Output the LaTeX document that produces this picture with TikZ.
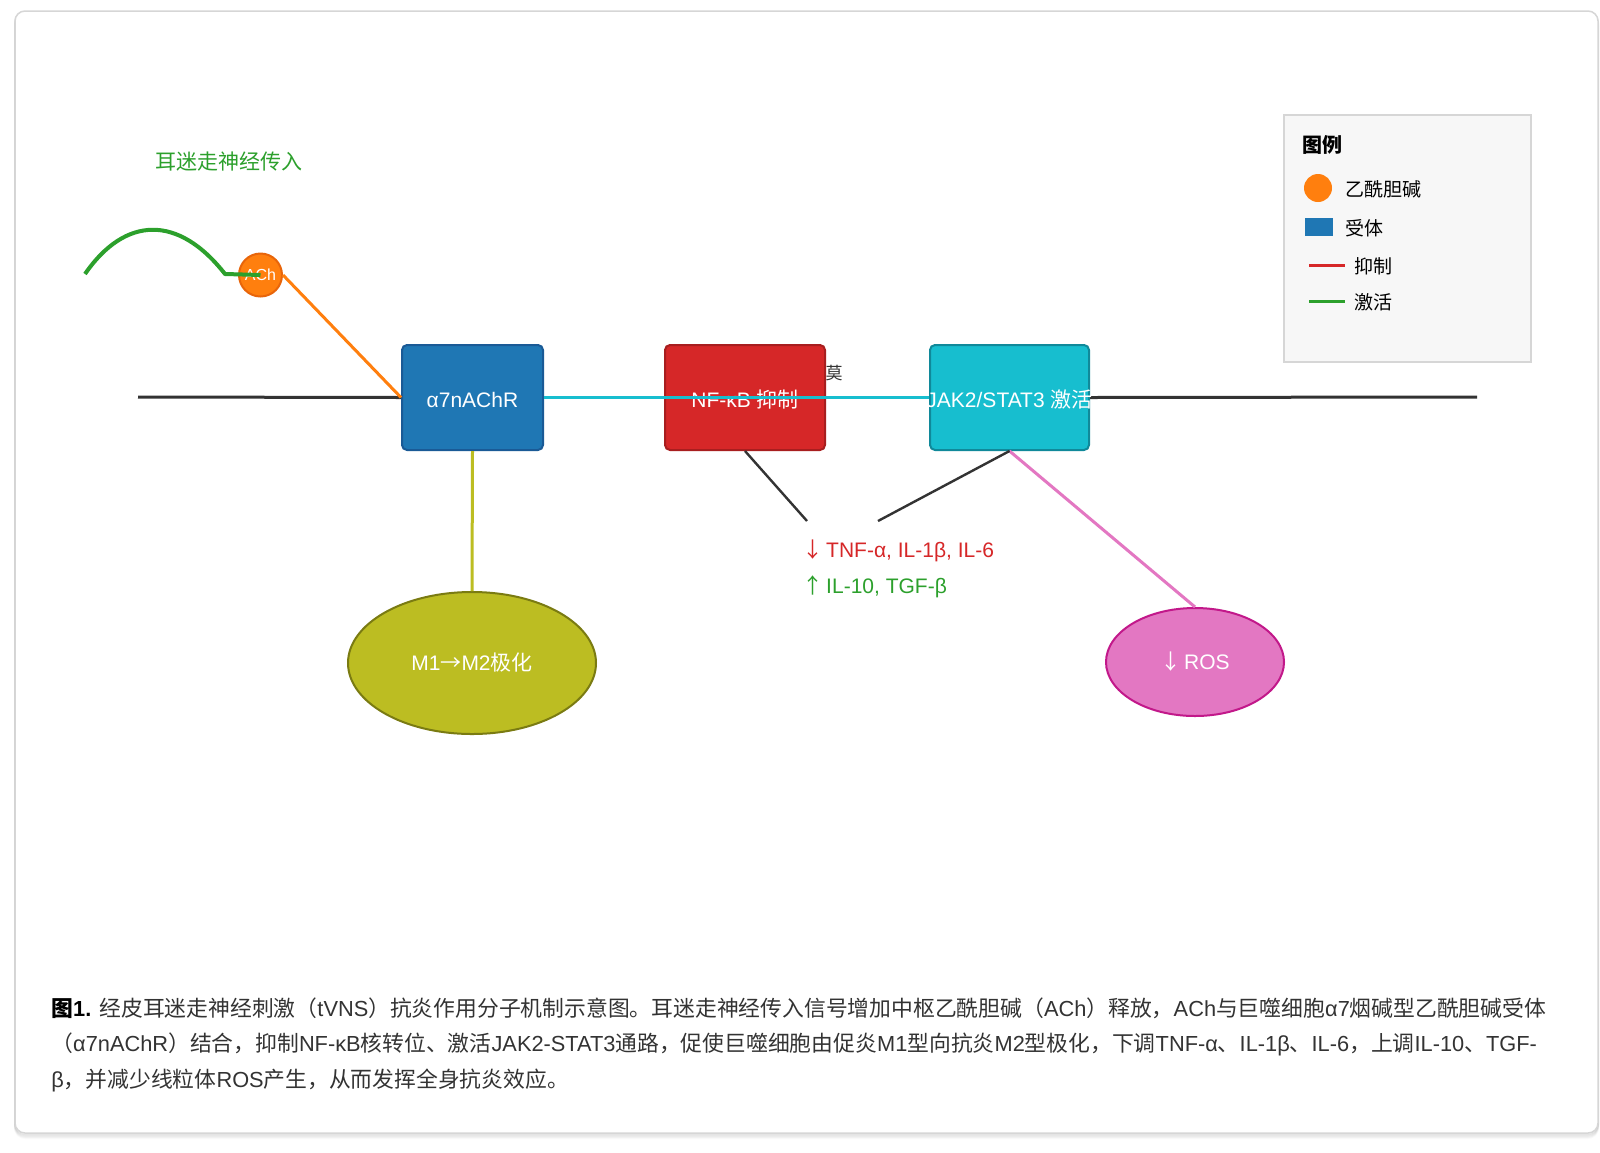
\documentclass[tikz,border=0pt]{standalone}
\usepackage{fontspec}
\setmainfont{Liberation Sans}
\newfontfamily\cjkfont{Noto Sans CJK SC}
\usetikzlibrary{shapes.geometric}
% automatic switch to the CJK font for CJK characters (and arrows)
\XeTeXinterchartokenstate=1
\newXeTeXintercharclass\cjkclass
\makeatletter
\count@="2190
\loop
\XeTeXcharclass\count@=\cjkclass
\ifnum\count@<"2193 \advance\count@\@ne\repeat
\count@="2E80
\loop
\XeTeXcharclass\count@=\cjkclass
\ifnum\count@<"9FFF \advance\count@\@ne\repeat
\count@="FF00
\loop
\XeTeXcharclass\count@=\cjkclass
\ifnum\count@<"FFEF \advance\count@\@ne\repeat
\makeatother
\XeTeXinterchartoks 0 \cjkclass={\begingroup\cjkfont}
\XeTeXinterchartoks 4095 \cjkclass={\begingroup\cjkfont}
\XeTeXinterchartoks \cjkclass 0={\endgroup}
\XeTeXinterchartoks \cjkclass 4095={\endgroup}
\newcommand\fsz[1]{\fontsize{#1}{#1}\selectfont}
\definecolor{cblue}{HTML}{1F77B4}
\definecolor{cblueD}{HTML}{1A5A96}
\definecolor{cred}{HTML}{D62728}
\definecolor{credD}{HTML}{A81E1F}
\definecolor{ccyan}{HTML}{17BECF}
\definecolor{ccyanD}{HTML}{10899A}
\definecolor{colive}{HTML}{BCBD22}
\definecolor{coliveD}{HTML}{7A7B12}
\definecolor{cpink}{HTML}{E377C2}
\definecolor{cpinkD}{HTML}{C2188A}
\definecolor{corange}{HTML}{FF7F0E}
\definecolor{corangeD}{HTML}{E8650A}
\definecolor{cgreen}{HTML}{2CA02C}
\definecolor{cdark}{HTML}{333333}
\definecolor{cframe}{HTML}{D6D6D6}
\begin{document}
\begin{tikzpicture}[x=0.5pt,y=-0.5pt,
  boxnode/.style={draw, rounded corners=2.5pt, line width=1pt, inner sep=0pt,
    minimum height=52.5pt},
  boxtext/.style={text=white, font=\fsz{10.5}, inner sep=0pt},
  ellnode/.style={ellipse, draw, line width=1pt, inner sep=0pt, text=white, font=\fsz{10.5}},
  plaintext/.style={inner sep=0pt, font=\fsz{10.5}},
  captext/.style={inner sep=0pt, anchor=west, font=\fsz{10.9}, text=cdark},
  legtext/.style={inner sep=0pt, anchor=west, font=\fsz{9.5}, text=black},
  link/.style={line width=1.5pt}
]
\useasboundingbox (0,0) rectangle (1600,1152);
% frame with soft shadow
\foreach \i/\o in {1/0.06,2/0.05,3/0.04,4/0.03,5/0.02}{
  \draw[line width=1pt, draw=black, opacity=\o, rounded corners=5pt] (15,11+\i) rectangle (1598,1133+\i);
}
\draw[line width=0.75pt, draw=cframe, fill=white, rounded corners=5pt] (15,11) rectangle (1598,1133);

% title
\node[plaintext, text=cgreen] (title) at (229,162) {耳迷走神经传入};

% boxes
\node[boxnode, fill=cblue, draw=cblueD, minimum width=70.5pt] (a7) at (472.5,397.5) {};
\node[boxnode, fill=cred, draw=credD, minimum width=80pt] (nf) at (745,397.5) {};
\node[boxnode, fill=ccyan, draw=ccyanD, minimum width=79.5pt] (jak) at (1009.5,397.5) {};

% membrane line
\coordinate (mL) at (138,397);
\coordinate (mR) at (1477,397);
\draw[line width=1.5pt, cdark] (mL) -- (a7.west);
\draw[line width=1.5pt, cdark] (jak.east) -- (mR);

\node[boxtext] (a7t) at (472.5,400) {α7nAChR};
\node[boxtext] (nft) at (745,400) {NF-κB 抑制};
\node[boxtext] (jakt) at (1009.5,400) {JAK2/STAT3 激活};

% cyan link
\draw[link, ccyan] (a7.east) -- (jak.west);

% stray glyph
\node[plaintext, font=\fsz{8.5}, text=cdark] (mo) at (834,373) {莫};

% ellipses
\node[ellnode, fill=colive, draw=coliveD, minimum width=124pt, minimum height=71pt] (m1) at (472,663) {M1→M2极化};
\node[ellnode, fill=cpink, draw=cpinkD, minimum width=89pt, minimum height=54pt] (ros) at (1195,662) {{↓}\kern-1.5pt{} ROS};

\draw[link, colive] (a7.south) -- (m1.north);
\draw[link, cpink] (jak.south) -- (ros.north);

% cytokine links
\coordinate (cyL) at (807,521);
\coordinate (cyR) at (878,521);
\draw[line width=1.2pt, cdark] (nf.south) -- (cyL);
\draw[line width=1.2pt, cdark] (jak.south) -- (cyR);
\node[plaintext, anchor=west, text=cred] (cy1) at (802,551) {{↓}\kern-1.5pt{} TNF-α, IL-1β, IL-6};
\node[plaintext, anchor=west, text=cgreen] (cy2) at (802,587) {{↑}\kern-1.5pt{} IL-10, TGF-β};

% ACh and nerve wave
\node[circle, draw=corangeD, fill=corange, line width=1pt, minimum size=21.5pt, inner sep=0pt,
  text=white, font=\fsz{8}] (ach) at (260.5,275) {ACh};
\draw[link, corange] (ach.east) -- (a7.west);
\coordinate (w0) at (85,274);
\coordinate (w1) at (225,274);
\draw[line width=2pt, cgreen, line join=round] (w0) .. controls (125,216) and (178,214) .. (w1) -- (ach.center);

% legend
\node[draw=cframe, fill=black!3, line width=1pt, minimum width=123.5pt, minimum height=123.5pt, inner sep=0pt] (leg) at (1407.5,238.5) {};
\node[legtext, font=\bfseries\fsz{10}] (legt) at (1302,145) {图例};
\node[circle, fill=corange, minimum size=14pt, inner sep=0pt] (lgc) at (1318,188) {};
\node[legtext] (lgct) at (1345,189) {乙酰胆碱};
\node[fill=cblue, minimum width=14pt, minimum height=9pt, inner sep=0pt] (lgr) at (1319,227) {};
\node[legtext] (lgrt) at (1345,228) {受体};
\draw[line width=1.5pt, cred] (1309,265) -- (1345,265);
\node[legtext] (lgit) at (1354,266) {抑制};
\draw[line width=1.5pt, cgreen] (1309,301) -- (1345,301);
\node[legtext] (lgat) at (1354,302) {激活};

% caption
\node[captext] (cap1) at (51,1008) {{\bfseries\color{black}图1.} 经皮耳迷走神经刺激（tVNS）抗炎作用分子机制示意图。耳迷走神经传入信号增加中枢乙酰胆碱（ACh）释放，ACh与巨噬细胞α7烟碱型乙酰胆碱受体};
\node[captext] (cap2) at (51,1044) {（α7nAChR）结合，抑制NF-κB核转位、激活JAK2-STAT3通路，促使巨噬细胞由促炎M1型向抗炎M2型极化，下调TNF-α、IL-1β、IL-6，上调IL-10、TGF-};
\node[captext] (cap3) at (51,1080) {β，并减少线粒体ROS产生，从而发挥全身抗炎效应。};
\end{tikzpicture}
\end{document}
